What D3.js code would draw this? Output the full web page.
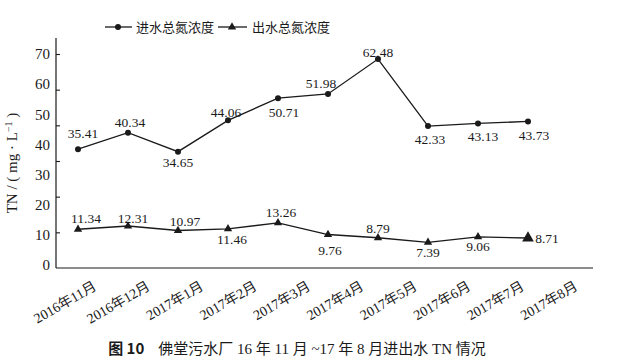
<!DOCTYPE html>
<html>
<head>
<meta charset="utf-8">
<script src="https://cdn.jsdelivr.net/npm/d3@7/dist/d3.min.js"></script>
<style>
  html, body { margin: 0; padding: 0; background: #fff; }
  svg { display: block; }
  text { font-family: "Liberation Serif", "Noto Sans CJK SC", serif; fill: #1a1a1a; }
</style>
</head>
<body>
<svg id="chart" width="633" height="364"></svg>
<script>
// ---- data ----
const categories = ["2016年11月", "2016年12月", "2017年1月", "2017年2月", "2017年3月",
                    "2017年4月", "2017年5月", "2017年6月", "2017年7月", "2017年8月"];
const inflowTN  = [35.41, 40.34, 34.65, 44.06, 50.71, 51.98, 62.48, 42.33, 43.13, 43.73];
const outflowTN = [11.34, 12.31, 10.97, 11.46, 13.26, 9.76, 8.79, 7.39, 9.06, 8.71];
const yTickLabels = [0, 10, 20, 30, 40, 50, 60, 70];
const seriesNames = ["进水总氮浓度", "出水总氮浓度"];
const yAxisTitle = "TN / ( mg · L";
const chartTitleLead = "图 10";
const chartTitle = "佛堂污水厂 16 年 11 月 ~17 年 8 月进出水 TN 情况";

// ---- layout (label nudges, in px) ----
const inflowLabelNudge  = [[5,-16],[2,-10],[0,11],[-2,-8],[6,14],[-7,-10],[0,-7],[2,13],[5,13],[6,14]];
const outflowLabelNudge = [[8,-11],[5,-8],[7,-9],[4,11],[3,-10],[2,16],[0,-9],[0,10],[0,10],[19,0]];

const svg = d3.select("#chart");
const plot = { left: 56, right: 593, top: 38, bottom: 268 };
const ink = "#1a1a1a";

// scales
const x = d3.scalePoint().domain(categories).range([78, 528]);
const xLab = d3.scalePoint().domain(categories).range([97, 578]);
const y = d3.scaleLinear().domain([0, 70]).range([267, 34]);
const yLab = d3.scaleLinear().domain([0, 70]).range([265, 54]);
const yTickMarks = d3.scaleLinear().domain([0, 60]).range([268, 54]);

// axis lines
svg.append("line").attr("x1", plot.left).attr("x2", plot.left)
  .attr("y1", plot.top).attr("y2", plot.bottom).attr("stroke", ink).attr("stroke-width", 1.2);
svg.append("line").attr("x1", plot.left).attr("x2", plot.right)
  .attr("y1", plot.bottom).attr("y2", plot.bottom).attr("stroke", ink).attr("stroke-width", 1.2);

// y tick marks (inward)
const gTicks = svg.append("g").attr("transform", `translate(${plot.left},0)`)
  .call(d3.axisRight(yTickMarks).tickValues([10,20,30,40,50,60]).tickSize(4).tickFormat(""));
gTicks.select(".domain").remove();
gTicks.selectAll("line").attr("stroke", ink).attr("stroke-width", 1.1);

// y tick labels
const gYL = svg.append("g").attr("transform", `translate(${plot.left - 6},0)`)
  .call(d3.axisLeft(yLab).tickValues(yTickLabels).tickSize(0).tickPadding(0));
gYL.select(".domain").remove();
gYL.selectAll("text").style("font-size", "15px").attr("fill", ink)
  .style("font-family", "'Liberation Serif', serif");

// x labels (rotated)
const gX = svg.append("g").attr("transform", `translate(0,289)`)
  .call(d3.axisBottom(xLab).tickSize(0).tickPadding(0));
gX.select(".domain").remove();
gX.selectAll("text")
  .attr("text-anchor", "end").attr("dy", 0).attr("y", 0).attr("x", 0)
  .attr("transform", "rotate(-30)")
  .style("font-size", "14px").attr("fill", ink)
  .style("font-family", "'Liberation Serif', 'Noto Sans CJK SC', serif");

// lines
const line = d3.line().x((d, i) => x(categories[i])).y(d => y(d));
svg.append("path").datum(inflowTN).attr("d", line)
  .attr("fill", "none").attr("stroke", ink).attr("stroke-width", 1.3);
svg.append("path").datum(outflowTN).attr("d", line)
  .attr("fill", "none").attr("stroke", ink).attr("stroke-width", 1.3);

// markers
svg.append("g").selectAll("circle").data(inflowTN).join("circle")
  .attr("cx", (d, i) => x(categories[i])).attr("cy", d => y(d))
  .attr("r", 3).attr("fill", ink);
const tri = d3.symbol().type(d3.symbolTriangle);
svg.append("g").selectAll("path").data(outflowTN).join("path")
  .attr("d", (d, i) => tri.size(i === outflowTN.length - 1 ? 60 : 30)())
  .attr("transform", (d, i) => `translate(${x(categories[i])},${y(d)})`)
  .attr("fill", ink);

// data labels
function addLabels(data, nudge) {
  svg.append("g").selectAll("text").data(data).join("text")
    .attr("x", (d, i) => x(categories[i]) + nudge[i][0])
    .attr("y", (d, i) => y(d) + nudge[i][1] + 4.5)
    .attr("text-anchor", "middle")
    .style("font-size", "13.5px")
    .text(d => d.toFixed(2));
}
addLabels(inflowTN, inflowLabelNudge);
addLabels(outflowTN, outflowLabelNudge);

// y axis title
const yt = svg.append("text")
  .attr("transform", "translate(17,163) rotate(-90)")
  .attr("text-anchor", "middle")
  .style("font-size", "15px");
yt.append("tspan").text(yAxisTitle);
yt.append("tspan").attr("dy", -5).style("font-size", "10px").text("−1");
yt.append("tspan").attr("dy", 5).text(" )");

// legend
const lg = svg.append("g").attr("transform", "translate(0,27)");
lg.append("line").attr("x1", 105).attr("x2", 132).attr("stroke", ink).attr("stroke-width", 1.3);
lg.append("circle").attr("cx", 118).attr("r", 3).attr("fill", ink);
lg.append("text").attr("x", 136).attr("y", 4.5).style("font-size", "13px").text(seriesNames[0]);
lg.append("line").attr("x1", 218).attr("x2", 247).attr("stroke", ink).attr("stroke-width", 1.3);
lg.append("path").attr("d", tri.size(30)()).attr("transform", "translate(232,0)").attr("fill", ink);
lg.append("text").attr("x", 252).attr("y", 4.5).style("font-size", "13px").text(seriesNames[1]);

// title
const tt = svg.append("text").attr("x", 297).attr("y", 354).attr("text-anchor", "middle")
  .style("font-size", "15px");
tt.append("tspan").style("font-family", "'Noto Sans CJK SC', sans-serif").style("font-weight", "bold")
  .text(chartTitleLead);
tt.append("tspan").attr("dx", 14).text(chartTitle);
</script>
</body>
</html>
